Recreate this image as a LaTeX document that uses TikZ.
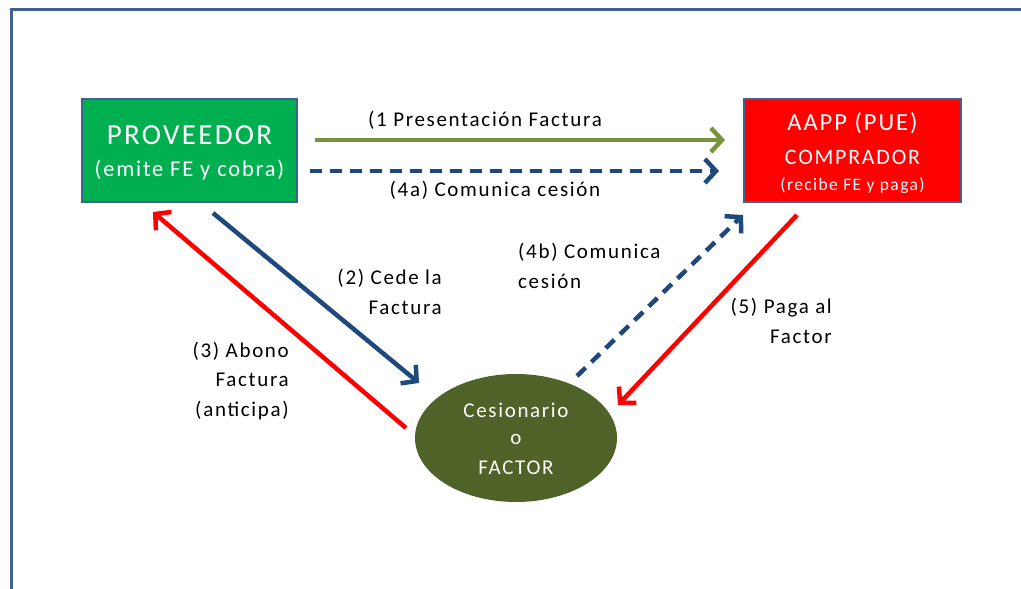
\documentclass[tikz,border=0pt]{standalone}
\usepackage{fontspec}
\setmainfont{Carlito}[LetterSpace=8]
\usetikzlibrary{arrows.meta,shapes.geometric}
\definecolor{framecol}{HTML}{41628E}
\definecolor{boxgreen}{HTML}{00B050}
\definecolor{boxred}{HTML}{FF0000}
\definecolor{olive}{HTML}{4F6228}
\definecolor{arrgreen}{HTML}{77933C}
\definecolor{arrblue}{HTML}{1F497D}
\definecolor{arrred}{HTML}{FF0000}
\tikzset{
  box/.style={draw=framecol, line width=2.5pt, text=white, align=center, inner sep=0pt},
  wtxt/.style={text=white, inner sep=0pt},
  lbl/.style={font=\fontsize{21}{29.5}\selectfont, text=black, inner sep=0pt},
  conn/.style={line width=4.5pt, -{Straight Barb[length=11pt,width=24pt,line width=4.5pt]}},
  dashconn/.style={conn, dash pattern=on 12pt off 8pt},
}
\begin{document}
\begin{tikzpicture}[x=1pt,y=-1pt]
\useasboundingbox (0,0) rectangle (1021,589);
\fill[white] (0,0) rectangle (1021,589);
\draw[framecol, line width=3pt] (1030,9.5) -- (11.5,9.5) -- (11.5,600);

\node[box, fill=boxgreen, minimum width=215pt, minimum height=103pt] (prov) at (189.5,150.5) {};
\node[wtxt, font=\fontsize{29}{29}\selectfont] (provt1) at (189.5,135) {PROVEEDOR};
\node[wtxt, font=\fontsize{22.5}{22.5}\selectfont] (provt2) at (189.5,170) {(emite FE y cobra)};

\node[box, fill=boxred, minimum width=217pt, minimum height=103pt] (aapp) at (852.5,150.5) {};
\node[wtxt, font=\fontsize{24.5}{24.5}\selectfont] (aappt1) at (852.5,123) {AAPP (PUE)};
\node[wtxt, font=\fontsize{22}{22}\selectfont] (aappt2) at (852.5,157) {COMPRADOR};
\node[wtxt, font=\fontsize{17.5}{17.5}\selectfont] (aappt3) at (852.5,186) {(recibe FE y paga)};

\node[ellipse, fill=olive, minimum width=202pt, minimum height=128pt, inner sep=0pt] (factor) at (516,438) {};
\node[wtxt, font=\fontsize{21}{21}\selectfont] (ft1) at (516,410) {Cesionario};
\node[wtxt, font=\fontsize{21}{21}\selectfont] (ft2) at (516,439) {o};
\node[wtxt, font=\fontsize{21}{21}\selectfont] (ft3) at (516,468) {FACTOR};

% endpoints
\coordinate (g1) at (315,140); \coordinate (g2) at (725,140);
\coordinate (b1) at (310,171); \coordinate (b2) at (719,171);
\coordinate (c1) at (213,213); \coordinate (c2) at (419,383);
\coordinate (r1) at (406,428); \coordinate (r2) at (153,212);
\coordinate (d1) at (577,376); \coordinate (d2) at (743,215);
\coordinate (p1) at (797,215); \coordinate (p2) at (618,405);

\draw[conn, arrgreen] (g1) -- (g2);
\draw[dashconn, arrblue] (b1) -- (b2);
\draw[conn, arrblue] (c1) -- (c2);
\draw[conn, arrred] (r1) -- (r2);
\draw[dashconn, arrblue] (d1) -- (d2);
\draw[conn, arrred] (p1) -- (p2);

\node[lbl] (l1) at (485,120) {(1 Presentación Factura};
\node[lbl] (l4a) at (495,190) {(4a) Comunica cesión};
\node[lbl, align=right, anchor=east] (l2) at (442,292) {(2) Cede la\\Factura};
\node[lbl, align=right, anchor=east] (l3) at (289,381) {(3) Abono\\Factura\\(anticipa)};
\node[lbl, align=left, anchor=west] (l4b) at (518,266) {(4b) Comunica\\cesión};
\node[lbl, align=right, anchor=east] (l5) at (832,321) {(5) Paga al\\Factor};
\end{tikzpicture}
\end{document}
